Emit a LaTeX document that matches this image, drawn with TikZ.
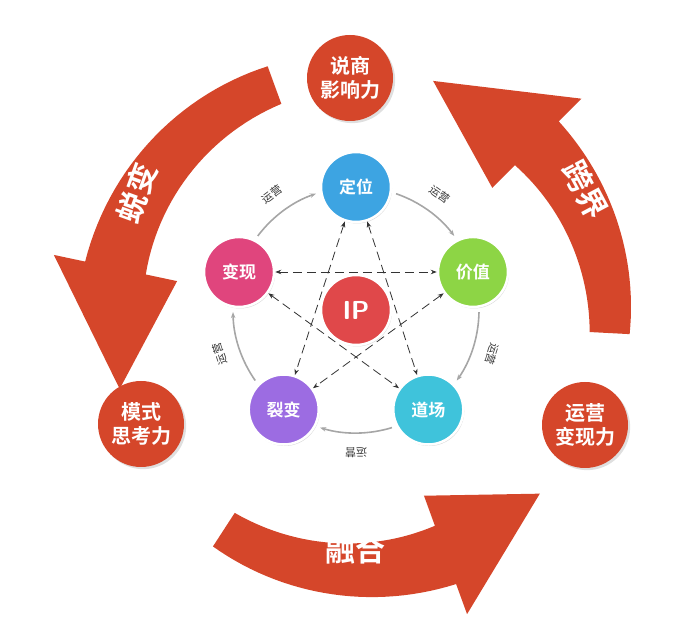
\documentclass[tikz,border=0pt]{standalone}
\usepackage{fontspec}
\newfontfamily\cjk{Noto Sans CJK SC}[BoldFont={* Bold}]
\usetikzlibrary{calc,arrows.meta,shadows}
\definecolor{org}{HTML}{D5462A}
\definecolor{cblue}{HTML}{3DA4E2}
\definecolor{cgreen}{HTML}{8DD545}
\definecolor{ccyan}{HTML}{3FC3DB}
\definecolor{cpurple}{HTML}{9C6CE2}
\definecolor{cpink}{HTML}{E0457D}
\definecolor{cred}{HTML}{E0484A}
\tikzset{
 small/.style={circle,minimum size=70pt,draw=white,line width=2.5pt,text=white,font=\cjk\bfseries\fontsize{17}{17}\selectfont,drop shadow={opacity=0.3,shadow xshift=1pt,shadow yshift=-1.5pt}},
 outer/.style={circle,minimum size=86pt,fill=org,text=white,align=center,font=\cjk\bfseries\fontsize{20}{24}\selectfont,drop shadow={opacity=0.25}},
 big/.style={text=white,font=\cjk\bfseries\fontsize{30}{30}\selectfont},
 dashline/.style={dashed,dash pattern=on 9pt off 5pt,black!80,line width=0.8pt,{Stealth[length=6pt]}-{Stealth[length=6pt]}},
 ring/.style={gray!70,line width=1.6pt,-{Stealth[length=6pt]}},
 lab/.style={font=\cjk\fontsize{11}{11}\selectfont,text=black!80}
}
\begin{document}
\begin{tikzpicture}[x=1pt,y=1pt]
\useasboundingbox (0,0) rectangle (700,620);
\def\cx{360}\def\cy{300}\def\rM{250}\def\wa{20}\def\wb{31}\def\dd{32}
% big arrows (tapered)
\foreach \a/\b/\c in {110/168/196, -3/45/73, 237/290/316}{
 \fill[org] plot[domain=\a:\b,samples=30,variable=\t] ({\cx+(\rM+\wa+(\wb-\wa)*(\t-\a)/(\b-\a))*cos(\t)},{\cy+(\rM+\wa+(\wb-\wa)*(\t-\a)/(\b-\a))*sin(\t)})
  -- ({\cx+(\rM+\wb+\dd)*cos(\b)},{\cy+(\rM+\wb+\dd)*sin(\b)})
  -- ({\cx+\rM*cos(\c)},{\cy+\rM*sin(\c)})
  -- ({\cx+(\rM-\wb-\dd)*cos(\b)},{\cy+(\rM-\wb-\dd)*sin(\b)})
  -- plot[domain=\b:\a,samples=30,variable=\t] ({\cx+(\rM-\wa-(\wb-\wa)*(\t-\a)/(\b-\a))*cos(\t)},{\cy+(\rM-\wa-(\wb-\wa)*(\t-\a)/(\b-\a))*sin(\t)}) -- cycle;
}
\node[big,rotate=70] (t1) at (137,427) {蜕变};
\node[big,rotate=-62] (t2) at (585,430) {跨界};
\node[big] (t3) at (355,70) {融合};
% outer circles
\node[outer] (o1) at (350,542) {说商\\影响力};
\node[outer] (o2) at (141,196) {模式\\思考力};
\node[outer] (o3) at (585,195) {运营\\变现力};
% ring
\coordinate (R) at (356,310);
\def\Rr{123}
\foreach \n/\ang/\col/\txt in {a/90/cblue/定位, b/18/cgreen/价值, c/-54/ccyan/道场, d/-126/cpurple/裂变, e/162/cpink/变现}{
 \node[small,fill=\col] (\n) at ($(R)+(\ang:\Rr)$) {\txt};
}
\node[small,fill=cred,font=\sffamily\bfseries\fontsize{26}{26}\selectfont] (ip) at (R) {IP};
\foreach \ang in {90,18,-54,-126,162}{
 \draw[ring] ($(R)+(\ang-19:\Rr)$) arc[start angle=\ang-19,end angle=\ang-53,radius=\Rr];
 \node[lab,rotate=\ang-36-90] at ($(R)+(\ang-36:\Rr+20)$) {运营};
}
\draw[dashline] (e) -- (b);
\draw[dashline] (e) -- (c);
\draw[dashline] (a) -- (d);
\draw[dashline] (a) -- (c);
\draw[dashline] (b) -- (d);
\end{tikzpicture}
\end{document}
